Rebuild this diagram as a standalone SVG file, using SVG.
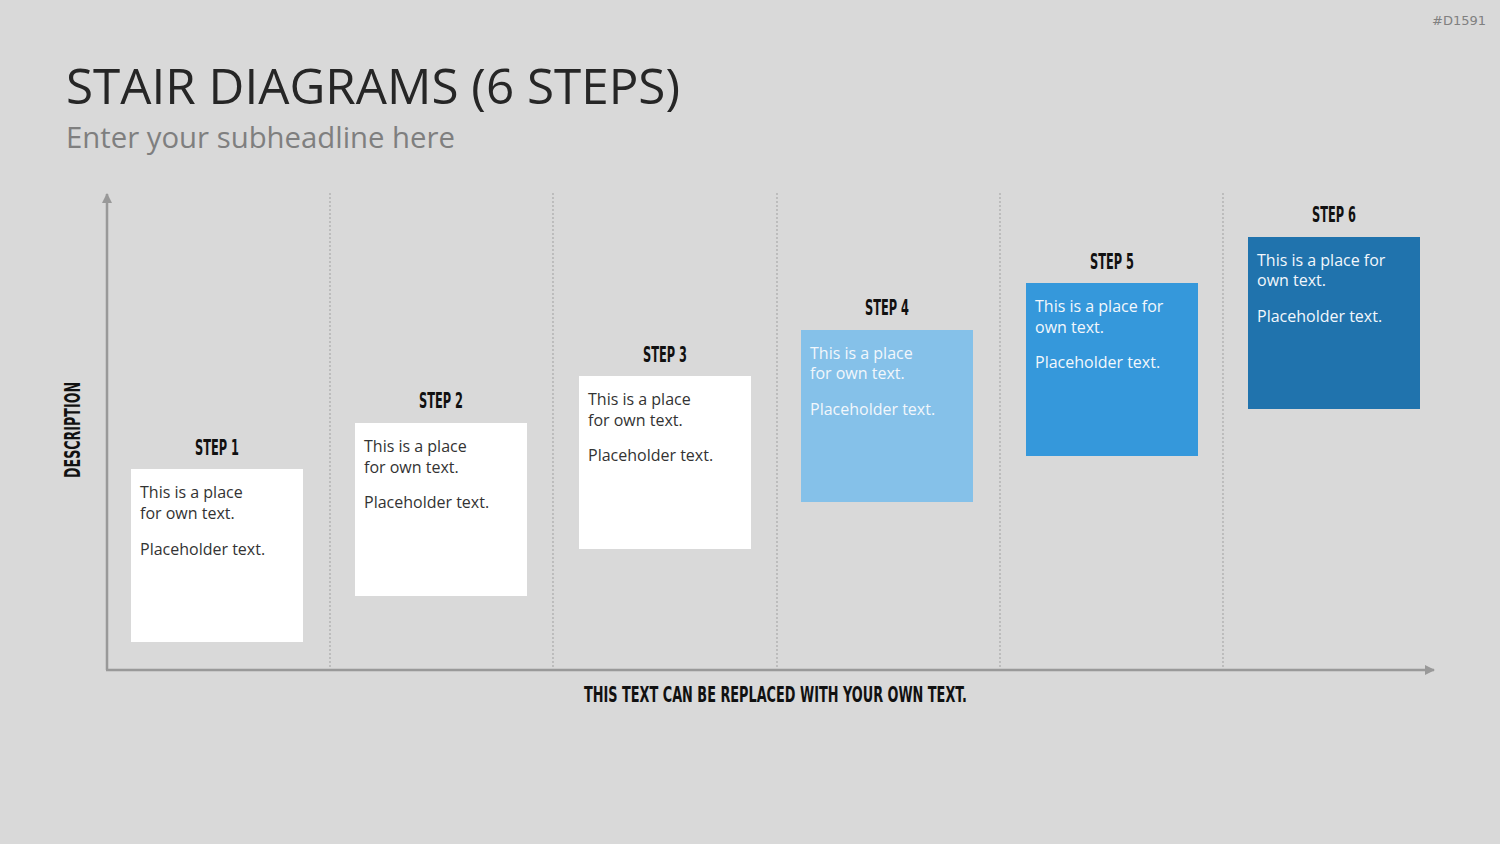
<svg xmlns="http://www.w3.org/2000/svg" width="1500" height="844" viewBox="0 0 1500 844">
<defs>
<style>
.title{font-family:"Open Sans","Liberation Sans",sans-serif;font-size:50px;fill:#262626}
.sub{font-family:"Open Sans","Liberation Sans",sans-serif;font-size:30px;fill:#7f7f7f}
.cond{font-family:"DejaVu Sans","Liberation Sans",sans-serif;font-weight:bold;fill:#111}
.step{font-size:21px}
.body{font-family:"Open Sans","Liberation Sans",sans-serif;font-size:16px}
.dark{fill:#333}
.light{fill:#f2f7fc}
.axis{stroke:#999;stroke-width:2.5;fill:none}
.grid{stroke:#aaa;stroke-width:1.2;stroke-dasharray:2 2;fill:none}
</style>
<marker id="arr" viewBox="0 0 10 10" refX="9" refY="5" markerWidth="4" markerHeight="4" orient="auto" markerUnits="strokeWidth">
<path d="M0,0 L10,5 L0,10 Z" fill="#999"/>
</marker>
</defs>
<rect width="1500" height="844" fill="#d9d9d9"/>
<text x="1486" y="25" text-anchor="end" font-family="DejaVu Sans,sans-serif" font-size="13" fill="#808080">#D1591</text>
<text class="title" x="66" y="104" textLength="614" lengthAdjust="spacingAndGlyphs">STAIR DIAGRAMS (6 STEPS)</text>
<text class="sub" x="66" y="148" textLength="389" lengthAdjust="spacingAndGlyphs">Enter your subheadline here</text>
<g id="connectors">
<line class="grid" x1="330" y1="193" x2="330" y2="668"/>
<line class="grid" x1="553" y1="193" x2="553" y2="668"/>
<line class="grid" x1="777" y1="193" x2="777" y2="668"/>
<line class="grid" x1="1000" y1="193" x2="1000" y2="668"/>
<line class="grid" x1="1223" y1="193" x2="1223" y2="668"/>
<line class="axis" x1="107" y1="670" x2="107" y2="194" marker-end="url(#arr)"/>
<line class="axis" x1="106" y1="670" x2="1434" y2="670" marker-end="url(#arr)"/>
</g>
<text class="cond" x="0" y="0" font-size="21" transform="translate(80,430) rotate(-90)" text-anchor="middle" textLength="96" lengthAdjust="spacingAndGlyphs">DESCRIPTION</text>
<text class="cond" x="584" y="702" font-size="22" textLength="383" lengthAdjust="spacingAndGlyphs">THIS TEXT CAN BE REPLACED WITH YOUR OWN TEXT.</text>
<g id="step1">
<text class="cond step" x="217" y="455" text-anchor="middle" textLength="44" lengthAdjust="spacingAndGlyphs">STEP 1</text>
<rect x="131" y="469" width="172" height="173" fill="#ffffff"/>
<text class="body dark" x="140" y="498">This is a place</text>
<text class="body dark" x="140" y="519">for own text.</text>
<text class="body dark" x="140" y="555">Placeholder text.</text>
</g>
<g id="step2">
<text class="cond step" x="441" y="408" text-anchor="middle" textLength="44" lengthAdjust="spacingAndGlyphs">STEP 2</text>
<rect x="355" y="423" width="172" height="173" fill="#ffffff"/>
<text class="body dark" x="364" y="452">This is a place</text>
<text class="body dark" x="364" y="473">for own text.</text>
<text class="body dark" x="364" y="508">Placeholder text.</text>
</g>
<g id="step3">
<text class="cond step" x="665" y="362" text-anchor="middle" textLength="44" lengthAdjust="spacingAndGlyphs">STEP 3</text>
<rect x="579" y="376" width="172" height="173" fill="#ffffff"/>
<text class="body dark" x="588" y="405">This is a place</text>
<text class="body dark" x="588" y="426">for own text.</text>
<text class="body dark" x="588" y="461">Placeholder text.</text>
</g>
<g id="step4">
<text class="cond step" x="887" y="315" text-anchor="middle" textLength="44" lengthAdjust="spacingAndGlyphs">STEP 4</text>
<rect x="801" y="330" width="172" height="172" fill="#85c1e9"/>
<text class="body light" x="810" y="359">This is a place</text>
<text class="body light" x="810" y="379">for own text.</text>
<text class="body light" x="810" y="415">Placeholder text.</text>
</g>
<g id="step5">
<text class="cond step" x="1112" y="269" text-anchor="middle" textLength="44" lengthAdjust="spacingAndGlyphs">STEP 5</text>
<rect x="1026" y="283" width="172" height="173" fill="#3598db"/>
<text class="body light" x="1035" y="312">This is a place for</text>
<text class="body light" x="1035" y="333">own text.</text>
<text class="body light" x="1035" y="368">Placeholder text.</text>
</g>
<g id="step6">
<text class="cond step" x="1334" y="222" text-anchor="middle" textLength="44" lengthAdjust="spacingAndGlyphs">STEP 6</text>
<rect x="1248" y="237" width="172" height="172" fill="#2073ad"/>
<text class="body light" x="1257" y="266">This is a place for</text>
<text class="body light" x="1257" y="286">own text.</text>
<text class="body light" x="1257" y="322">Placeholder text.</text>
</g>
</svg>
